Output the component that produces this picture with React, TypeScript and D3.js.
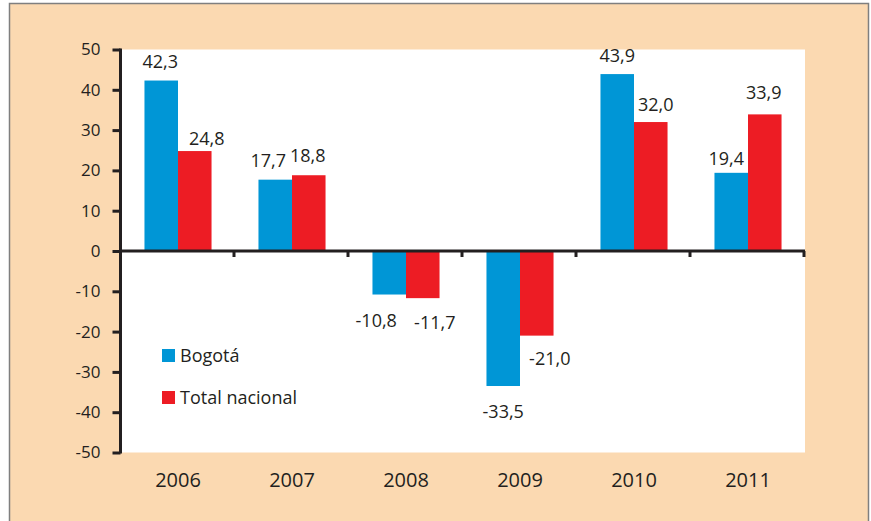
import React, { useEffect, useRef } from "react";
import * as d3 from "d3";

const years = ["2006", "2007", "2008", "2009", "2010", "2011"];
const seriesNames = ["Bogotá", "Total nacional"];
const bogota = [42.3, 17.7, -10.8, -33.5, 43.9, 19.4];
const totalNacional = [24.8, 18.8, -11.7, -21.0, 32.0, 33.9];
const yTicks = [50, 40, 30, 20, 10, 0, -10, -20, -30, -40, -50];

// small hand nudges for the value labels (pixels), as in the original
const nudgeBogota = [[-1, -2], [-7, -2], [-13, 1], [0, 1], [0, -1], [-5, 3]];
const nudgeTotal = [[12, 5], [-1, -2], [12, 0], [13, -2], [5, 0], [-1, -4]];

const colors = ["#0096d6", "#ed1c24"];
const peach = "#fbd9b1";

const App = () => {
    const svgRef = useRef<SVGSVGElement>(null);

    useEffect(() => {
        const svg = d3.select(svgRef.current);
        svg.selectAll("*").remove();

        const W = 871, H = 521;
        const left = 122, right = 805, top = 49.5, bottom = 452.5;
        const font = "'Open Sans', sans-serif";
        const ink = "#231f20";
        const fmt = (d: number) => d3.format(".1f")(d).replace(".", ",").replace("\u2212", "-");

        // outer frame
        svg.append("rect")
            .attr("x", 9.5).attr("y", 3.5)
            .attr("width", 859).attr("height", H + 10)
            .attr("fill", peach)
            .attr("stroke", "#7f7f7f")
            .attr("stroke-width", 1.5);

        svg.append("rect")
            .attr("x", left).attr("y", top)
            .attr("width", right - left).attr("height", bottom - top)
            .attr("fill", "#fff");

        const x = d3.scaleBand().domain(years).range([left - 1, right]).padding(0);
        const x1 = d3.scaleBand().domain(seriesNames).range([0, x.bandwidth()])
            .paddingInner(0).paddingOuter(0.7);
        const y = d3.scaleLinear().domain([-50, 50]).range([bottom, top]);

        const series = [bogota, totalNacional];
        const nudges = [nudgeBogota, nudgeTotal];

        series.forEach((vals, s) => {
            const g = svg.append("g");
            g.selectAll("rect")
                .data(vals)
                .enter()
                .append("rect")
                .attr("x", (d, i) => x(years[i])! + x1(seriesNames[s])!)
                .attr("width", x1.bandwidth())
                .attr("y", d => y(Math.max(0, d)))
                .attr("height", d => Math.abs(y(d) - y(0)))
                .attr("fill", colors[s]);

            g.selectAll("text")
                .data(vals)
                .enter()
                .append("text")
                .attr("x", (d, i) => x(years[i])! + x1(seriesNames[s])! + x1.bandwidth() / 2 + nudges[s][i][0])
                .attr("y", (d, i) => (d >= 0 ? y(d) - 11 : y(d) + 31) + nudges[s][i][1])
                .attr("text-anchor", "middle")
                .attr("font-family", font)
                .attr("font-size", 18)
                .attr("fill", ink)
                .text(d => fmt(d));
        });

        // y axis
        const yAxis = d3.axisLeft(y).tickValues(yTicks).tickSize(8).tickPadding(12)
            .tickFormat(d => String(d));
        const ya = svg.append("g").attr("transform", `translate(${left - 1.5},0)`).call(yAxis);
        ya.select(".domain").attr("stroke", ink).attr("stroke-width", 3)
            .attr("d", `M0,${top - 1}V${bottom + 1}`);
        ya.selectAll(".tick line").attr("stroke", ink).attr("stroke-width", 3);
        ya.selectAll(".tick text")
            .attr("font-family", font).attr("font-size", 17).attr("fill", ink);

        // zero line with category ticks
        const z = y(0);
        svg.append("line")
            .attr("x1", left - 1.5).attr("x2", right)
            .attr("y1", z).attr("y2", z)
            .attr("stroke", ink).attr("stroke-width", 3);
        const edges = years.map(yr => x(yr)! + x.bandwidth());
        svg.selectAll(".cat-tick")
            .data(edges)
            .enter()
            .append("line")
            .attr("x1", d => d - 1).attr("x2", d => d - 1)
            .attr("y1", z).attr("y2", z + 6)
            .attr("stroke", ink).attr("stroke-width", 3);

        // year labels
        svg.selectAll(".year")
            .data(years)
            .enter()
            .append("text")
            .attr("x", d => x(d)! + x.bandwidth() / 2)
            .attr("y", 487)
            .attr("text-anchor", "middle")
            .attr("font-family", font)
            .attr("font-size", 20)
            .attr("fill", ink)
            .text(d => d);

        // legend
        const legend = svg.append("g").attr("transform", "translate(162,349)");
        seriesNames.forEach((name, i) => {
            const row = legend.append("g").attr("transform", `translate(0,${i * 42})`);
            row.append("rect")
                .attr("width", 13).attr("height", 13)
                .attr("fill", colors[i]);
            row.append("text")
                .attr("x", 18).attr("y", 12.5)
                .attr("font-family", font)
                .attr("font-size", 18)
                .attr("fill", ink)
                .text(name);
        });

        svg.attr("width", W).attr("height", H);
    }, []);

    return (
        <svg ref={svgRef} width={871} height={521}
            style={{ position: "absolute", left: 0, top: 0, display: "block" }} />
    );
};

export default App;
